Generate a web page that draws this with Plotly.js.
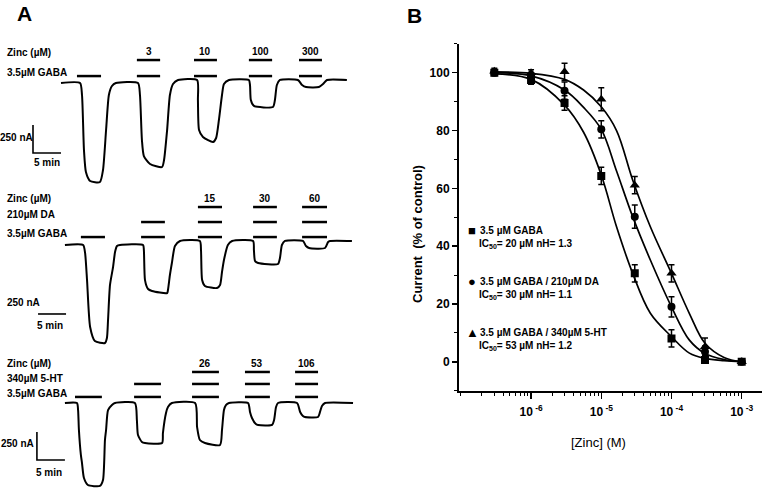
<!DOCTYPE html>
<html><head><meta charset="utf-8">
<script src="https://cdn.plot.ly/plotly-3.0.1.min.js"></script>
<style>body{margin:0;background:#fff}#chart{width:765px;height:489px}</style>
</head><body><div id="chart"></div>
<script>
// ================= DATA =================
// ---- Panel B: concentration-response ----
const zincM   = [3e-7, 1e-6, 3e-6, 1e-5, 3e-5, 1e-4, 3e-4, 1e-3];
const gabaPct = [100, 97.5, 89.5, 64.3, 30.6, 8.1, 0.6, 0];
const gabaErr = [1, 1.5, 2.5, 3, 3, 3, 1, 0.5];
const daPct   = [100, 99, 93.8, 80.4, 50.2, 19, 3.5, 0];
const daErr   = [1, 1, 3, 3, 4, 3.5, 2, 0.5];
const htPct   = [100.5, 100, 100.3, 90.8, 61.1, 30.6, 5.2, 0];
const htErr   = [1, 1, 3, 4, 3, 3, 3, 0.5];
// fitted curves
const fitM    = [3e-7, 1e-6, 3e-6, 5.6e-6, 1e-5, 1.65e-5, 2.8e-5, 5e-5, 1e-4, 1.8e-4, 3e-4, 5.6e-4, 1e-3];
const gabaFit = [99.6, 97.7, 88.8, 79.4, 64.6, 46.7, 30.6, 16.8, 8.7, 3, 1.2, 0.4, 0];
const daFit   = [100, 98.9, 94, 88, 80.4, 66, 50.2, 35.2, 19, 7.5, 2.9, 0.8, 0];
const htFit   = [100.3, 99.8, 97.7, 94, 88.2, 80, 62.9, 46.7, 30.6, 16.7, 6.4, 1.5, 0];
const seriesNames = ['3.5 µM GABA', '3.5 µM GABA / 210µM DA', '3.5 µM GABA / 340µM 5-HT'];
const ic50uM = [20, 30, 53];
const hillN  = [1.3, 1.1, 1.2];
const xTickVals = [1e-6, 1e-5, 1e-4, 1e-3];
const xTickText = ['10<sup> -6</sup>', '10<sup> -5</sup>', '10<sup> -4</sup>', '10<sup> -3</sup>'];

// ---- Panel A: current traces (time in min, current in nA relative to baseline) ----
const t1 = [0,3.4,3.75,4.1,4.45,5.2,6.95,7.5,8.05,8.55,9.1,9.8,13.75,14.1,14.45,14.8,15.9,18.05,18.4,18.95,19.45,20,20.9,24.3,24.45,24.65,25.35,27.15,27.7,28.2,28.75,29.1,30,33.55,33.75,33.9,34.45,37.85,38.2,38.55,39.1,42.3,43.05,43.75,46.05,46.8,47.5,51.05];
const i1 = [0,0,-107,-598,-795,-875,-884,-777,-420,-107,-27,0,0,-107,-509,-652,-723,-750,-688,-420,-107,-9,27,27,-152,-420,-482,-527,-491,-330,-107,-9,27,27,-18,-152,-205,-214,-152,-18,27,27,-18,-36,-36,-9,27,27];
const t2 = [0.7,3.95,4.3,4.65,5.2,6.05,7.85,8.2,8.4,8.75,9.3,9.65,10,10.55,14.65,14.8,15,15.55,16.25,18.95,19.1,19.45,19.8,20.35,21.25,24.8,25,25.2,25.7,27.85,28.4,28.75,29.1,29.8,30.55,34.3,34.45,34.65,35.2,38.75,39.1,39.45,40,43.2,43.75,44.3,47.15,47.7,48.05,51.95];
const i2 = [0,0,-71,-313,-732,-857,-875,-830,-670,-357,-196,-63,-9,0,0,-45,-313,-393,-411,-429,-402,-268,-161,-9,36,36,-45,-313,-366,-384,-357,-241,-134,0,36,36,-45,-143,-161,-170,-116,0,36,36,-9,-27,-27,27,36,36];
const t3 = [0.7,2.85,3.05,3.2,3.55,3.75,4.1,4.8,6.95,7.5,7.85,8.05,8.4,9.1,9.65,13.2,13.55,13.75,14.45,15,18.05,18.2,18.75,19.1,19.8,23.95,24.3,24.8,25.7,28.4,28.75,29.1,29.45,30,33.4,33.75,34.1,34.8,35.2,37.7,38.05,38.4,38.75,42.15,42.7,43.2,43.55,45.9,46.25,46.6,47.15,52.15];
const i3 = [0,0,-63,-241,-464,-536,-670,-732,-741,-688,-330,-241,-63,-18,0,0,-152,-286,-348,-357,-357,-268,-89,-36,0,0,-214,-330,-357,-375,-241,-63,-18,0,0,-80,-134,-188,-196,-196,-152,-36,0,0,-80,-116,-125,-125,-80,-27,0,0];
// drug application periods (min)
const appStart1 = [2.85, 13.55, 23.75, 33.55, 42.5];
const appEnd1   = [7.15, 17.7, 27.85, 37.7, 46.6];
const appStart2 = [3.55, 14.3, 24.45, 34.3, 43.05];
const appEnd2   = [7.85, 18.55, 28.75, 38.55, 47.5];
const appStart3 = [2.5, 13.05, 23.4, 32.85, 41.8];
const appEnd3   = [7.3, 17.85, 28.2, 37.3, 45.9];
// concentrations per application (null = not applied)
const gaba  = [3.5, 3.5, 3.5, 3.5, 3.5];
const zinc1 = [null, 3, 10, 100, 300];
const da2   = [null, 210, 210, 210, 210];
const zinc2 = [null, null, 15, 30, 60];
const ht3   = [null, 340, 340, 340, 340];
const zinc3 = [null, null, 26, 53, 106];
const scaleNA = 250, scaleMin = 5;

// ================= LAYOUT / STYLE =================
const W = 765, H = 489;
const PX_MIN = 5.6, PX_NA = 0.112, T0PX = 61;
const REG = '"Liberation Sans", Arial, sans-serif';
const rows = [
  {top: 0,   bot: 192, base: 83,  ax: 'y2', levels: [62, 205]},
  {top: 192, bot: 350, base: 245, ax: 'y3', levels: [71, 205, 339]},
  {top: 350, bot: 489, base: 403, ax: 'y4', levels: [54, 170, 277]}
];
function px(xp, yp) { return {x: xp / W, y: 1 - yp / H}; }
function yAx(r) {
  return {domain: [1 - r.bot / H, 1 - r.top / H],
          range: [(r.base - r.bot) / PX_NA, (r.base - r.top) / PX_NA],
          visible: false, fixedrange: true, anchor: 'x2'};
}
const bFont = (s, w) => ({family: REG, size: s, color: '#000', weight: w || 'bold'});
const traces = [];
const ann = [];
function A(text, xp, yp, o) {
  const p = px(xp, yp);
  ann.push(Object.assign({text: text, xref: 'paper', yref: 'paper', x: p.x, y: p.y,
    showarrow: false, xanchor: 'left', yanchor: 'middle', font: bFont(10)}, o || {}));
}

// ---- Panel A traces ----
const rowData = [
  {t: t1, i: i1, s: appStart1, e: appEnd1, conc: [gaba, zinc1], zinc: zinc1},
  {t: t2, i: i2, s: appStart2, e: appEnd2, conc: [gaba, da2, zinc2], zinc: zinc2},
  {t: t3, i: i3, s: appStart3, e: appEnd3, conc: [gaba, ht3, zinc3], zinc: zinc3}
];
rowData.forEach((d, k) => {
  const r = rows[k];
  traces.push({x: d.t, y: d.i, xaxis: 'x2', yaxis: r.ax, mode: 'lines', hoverinfo: 'skip',
    line: {color: '#000', width: 2, shape: 'spline', smoothing: 0.6}, showlegend: false, cliponaxis: false});
  d.conc.forEach((c, lv) => {
    const bx = [], by = [];
    c.forEach((v, j) => { if (v !== null) { bx.push(d.s[j], d.e[j], null); by.push(r.levels[lv], r.levels[lv], null); } });
    traces.push({x: bx, y: by, xaxis: 'x2', yaxis: r.ax, mode: 'lines', hoverinfo: 'skip',
      line: {color: '#000', width: 2.5}, showlegend: false, cliponaxis: false});
  });
  const zl = r.levels[r.levels.length - 1];
  d.zinc.forEach((v, j) => {
    if (v !== null) ann.push({text: String(v), xref: 'x2', yref: r.ax, x: (d.s[j] + d.e[j]) / 2, y: zl,
      yanchor: 'bottom', yshift: 1, showarrow: false, font: bFont(10)});
  });
});
// scale bars
const corners = [{t: -5, i: -625, v: true}, {t: -4.1, i: -616, v: false}, {t: -4.3, i: -509, v: true}];
corners.forEach((c, k) => {
  traces.push({x: c.v ? [c.t, c.t, c.t + scaleMin] : [c.t, c.t + scaleMin],
    y: c.v ? [c.i + scaleNA, c.i, c.i] : [c.i, c.i], xaxis: 'x2', yaxis: rows[k].ax, mode: 'lines',
    hoverinfo: 'skip', line: {color: '#000', width: 1.6}, showlegend: false, cliponaxis: false});
});
// Panel A labels
A('A', 24, 14, {xanchor: 'center', font: bFont(21)});
A('Zinc (µM)', 5, 52); A('3.5µM GABA', 5, 72);
A('Zinc (µM)', 5, 199); A('210µM DA', 5, 214); A('3.5µM GABA', 5, 233);
A('Zinc (µM)', 5, 363); A('340µM 5-HT', 5, 378); A('3.5µM GABA', 5, 393);
A(scaleNA + ' nA', 35, 138, {xanchor: 'right'}); A(scaleMin + ' min', 47, 163, {xanchor: 'center'});
A(scaleNA + ' nA', 5, 302); A(scaleMin + ' min', 50, 325, {xanchor: 'center'});
A(scaleNA + ' nA', 36, 443, {xanchor: 'right'}); A(scaleMin + ' min', 49, 472, {xanchor: 'center'});

// ---- Panel B ----
const syms = ['square', 'circle', 'triangle-up'];
const glyphs = ['■', '●', '▲'];
[[gabaPct, gabaErr, gabaFit], [daPct, daErr, daFit], [htPct, htErr, htFit]].forEach((s, k) => {
  traces.push({x: fitM, y: s[2], xaxis: 'x', yaxis: 'y', mode: 'lines', hoverinfo: 'skip',
    line: {color: '#000', width: 1.7, shape: 'spline', smoothing: 1}, showlegend: false});
  traces.push({x: zincM, y: s[0], xaxis: 'x', yaxis: 'y', mode: 'markers', name: seriesNames[k],
    marker: {symbol: syms[k], size: k === 2 ? 9 : 8, color: '#000'},
    error_y: {type: 'data', array: s[1], color: '#000', thickness: 1.5, width: 3}, showlegend: false});
});
const legY = [230, 281, 332];
seriesNames.forEach((n, k) => {
  A(glyphs[k], 472, legY[k] + 0.5, {xanchor: 'center', font: bFont(13)});
  A(n, 478, legY[k], {font: bFont(10)});
  A('IC<sub>50</sub>= ' + ic50uM[k] + ' µM nH= ' + hillN[k], 477, legY[k] + 14, {font: bFont(10)});
});
A('B', 415, 15, {xanchor: 'center', font: bFont(21)});
A('Current\u00a0\u00a0(% of control)', 417, 234, {xanchor: 'center', textangle: -90, font: bFont(13)});
A('[Zinc] (M)', 598, 442, {xanchor: 'center', font: bFont(13, 'normal')});

const layout = {
  width: W, height: H, margin: {l: 0, r: 0, t: 0, b: 0}, paper_bgcolor: '#fff', plot_bgcolor: 'rgba(0,0,0,0)',
  showlegend: false,
  xaxis2: {domain: [0, 380 / W], range: [-T0PX / PX_MIN, (380 - T0PX) / PX_MIN], visible: false, anchor: 'y2', fixedrange: true},
  yaxis2: yAx(rows[0]), yaxis3: yAx(rows[1]), yaxis4: yAx(rows[2]),
  xaxis: {type: 'log', domain: [459 / W, 762 / W], range: [-7.026, -2.711], anchor: 'y',
    showline: true, linecolor: '#000', linewidth: 2, showgrid: false, zeroline: false,
    ticks: 'outside', ticklen: 6, tickwidth: 1.5, tickcolor: '#000',
    tickmode: 'array', tickvals: xTickVals, ticktext: xTickText, ticklabelstandoff: 3,
    tickfont: bFont(12),
    minor: {ticks: 'outside', ticklen: 3, tickwidth: 1, tickcolor: '#000', dtick: 'D1', showgrid: false}},
  yaxis: {domain: [1 - 390.7 / H, 1 - 43.8 / H], range: [-10, 110], anchor: 'x',
    showline: true, linecolor: '#000', linewidth: 2, showgrid: false, zeroline: false,
    ticks: 'outside', ticklen: 5, tickwidth: 1.5, tickcolor: '#000', dtick: 20, tick0: 0,
    tickfont: bFont(12),
    minor: {ticks: 'outside', ticklen: 3, tickwidth: 1, tickcolor: '#000', dtick: 10, showgrid: false}},
  annotations: ann
};
Plotly.newPlot('chart', traces, layout, {staticPlot: true, displayModeBar: false});
</script></body></html>
